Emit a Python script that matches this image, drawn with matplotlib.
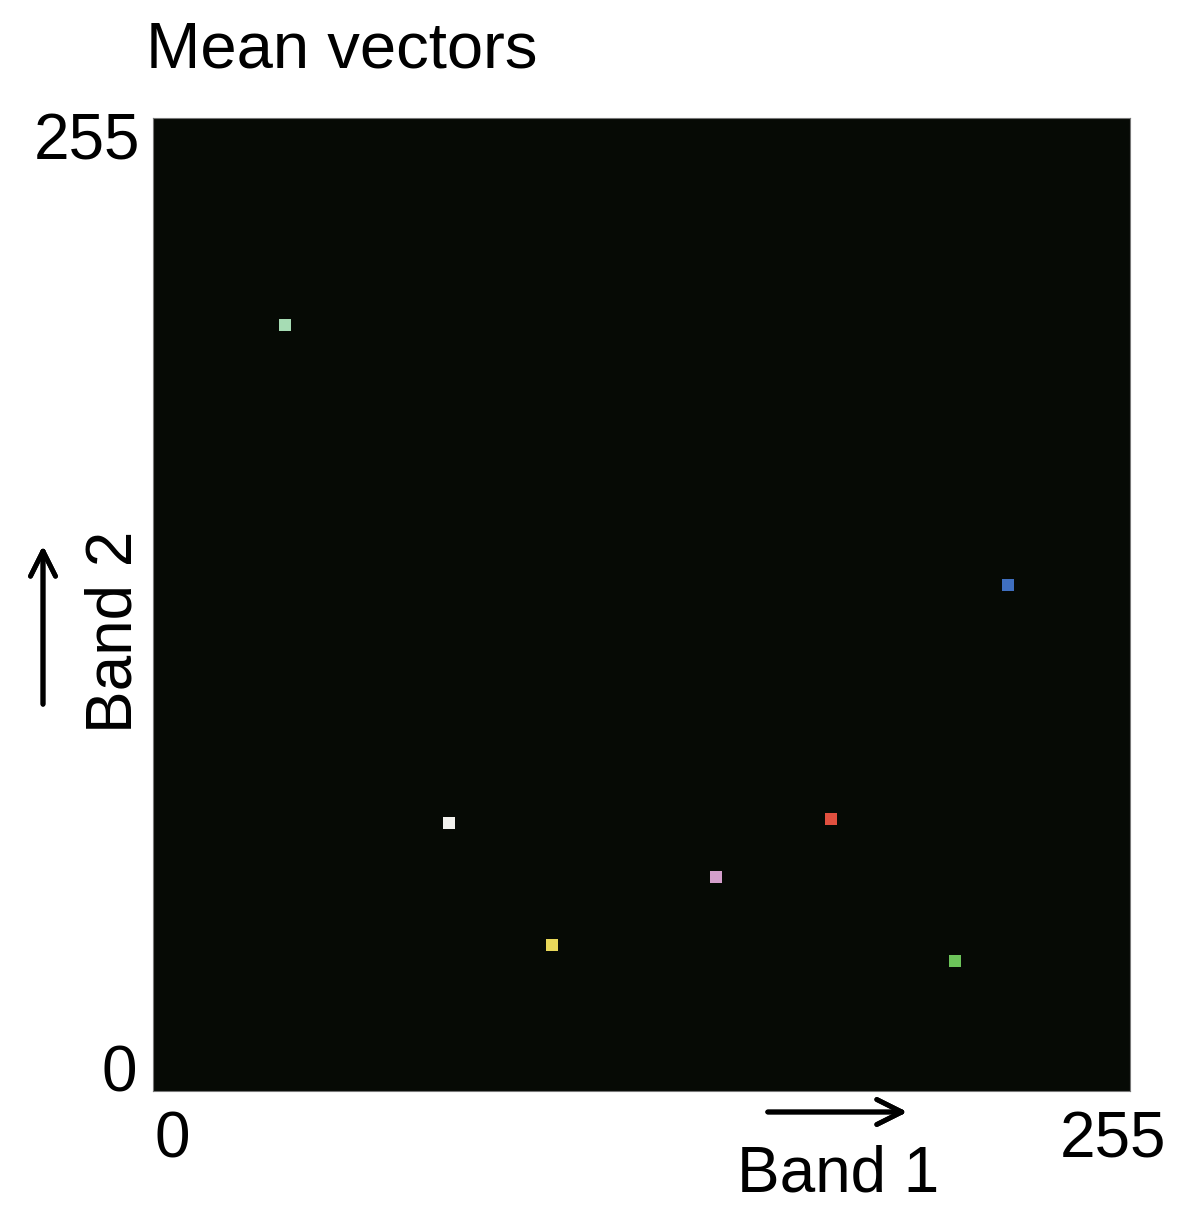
import matplotlib.pyplot as plt

plt.rcParams['font.family'] = ['Liberation Sans', 'DejaVu Sans']

# mean vectors (band 1, band 2)
band1 = [34.5, 77.3, 104.2, 146.9, 177.0, 209.3, 223.1]
band2 = [200.7, 70.3, 38.3, 56.1, 71.4, 34.1, 132.7]
colors = ['#a6dcb4', '#f2f2ee', '#e8d85a', '#d49fcc', '#e0503f', '#6cc45a', '#3f6fbf']

W, H = 1178, 1211
fig = plt.figure(figsize=(W / 100, H / 100), dpi=100)
ax = fig.add_axes([153 / W, 1 - 1091 / H, 977 / W, 973 / H])
ax.set_facecolor('#060a05')
for s in ax.spines.values():
    s.set_color('#777777')
    s.set_linewidth(0.8)

ax.scatter(band1, band2, c=colors, marker='s', s=75, linewidths=0)
ax.set_xlim(0, 255)
ax.set_ylim(0, 255)
ax.set_xticks([])
ax.set_yticks([])

fs = 46
fig.text(146 / W, 1 - 50 / H, 'Mean vectors', fontsize=fs + 1, ha='left', va='center')
fig.text(140 / W, 1 - 142 / H, '255', fontsize=fs, ha='right', va='center')
fig.text(137 / W, 1 - 1075 / H, '0', fontsize=fs, ha='right', va='center')
fig.text(172 / W, 1 - 1141 / H, '0', fontsize=fs, ha='center', va='center')
fig.text(1166 / W, 1 - 1141 / H, '255', fontsize=fs, ha='right', va='center')
fig.text(838 / W, 1 - 1175 / H, 'Band 1', fontsize=fs, ha='center', va='center')
fig.text(115 / W, 1 - 632 / H, 'Band 2', fontsize=fs, ha='center', va='center', rotation=90)

# direction arrows
fig.add_artist(plt.annotate('', xy=(910 / W, 1 - 1112 / H), xytext=(765 / W, 1 - 1112 / H),
                            xycoords='figure fraction',
                            arrowprops=dict(arrowstyle='->', lw=3.5, color='black', mutation_scale=45)))
fig.add_artist(plt.annotate('', xy=(43 / W, 1 - 543 / H), xytext=(43 / W, 1 - 707 / H),
                            xycoords='figure fraction',
                            arrowprops=dict(arrowstyle='->', lw=3.5, color='black', mutation_scale=45)))

fig.savefig('out.png', dpi=100)
